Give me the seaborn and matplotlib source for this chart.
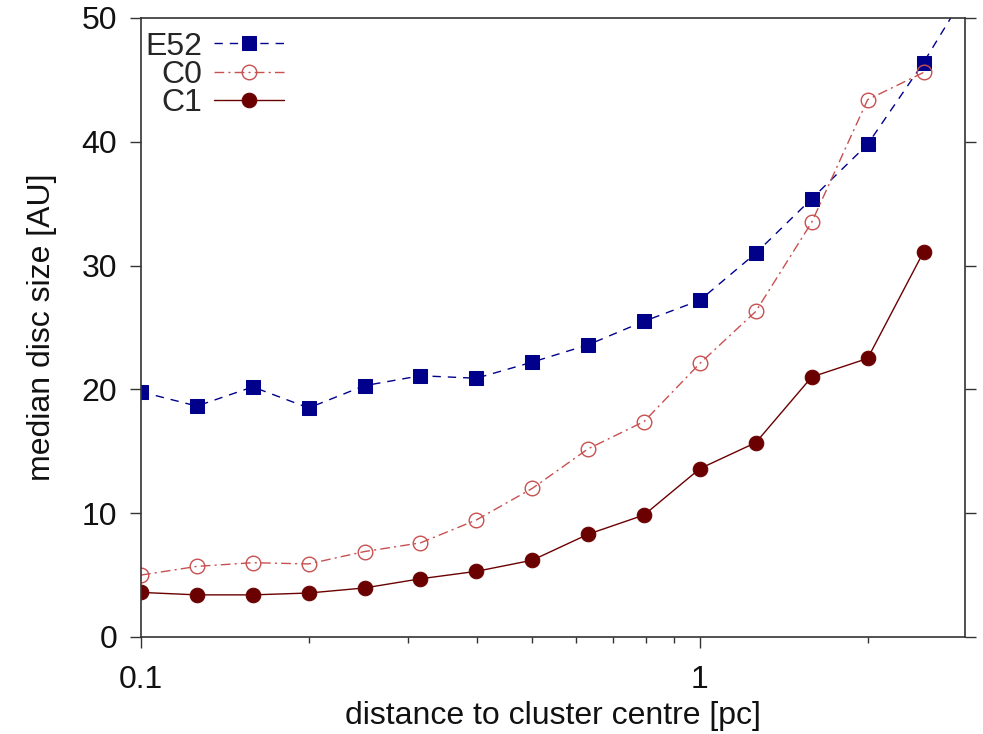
import numpy as np
import pandas as pd
import seaborn as sns
import matplotlib
matplotlib.use("Agg")
import matplotlib.pyplot as plt
from matplotlib.ticker import FixedLocator, NullFormatter

# distance to cluster centre [pc]
distance = [0.1, 0.1259, 0.1585, 0.1995, 0.2512, 0.3162, 0.3981, 0.5012,
            0.6310, 0.7943, 1.0, 1.2589, 1.5849, 1.9953, 2.5119]
distance_e52 = distance + [3.1623]

e52 = [19.8, 18.65, 20.2, 18.5, 20.3, 21.1, 20.9, 22.2, 23.6, 25.5, 27.2,
       31.0, 35.4, 39.8, 46.4, 53.8]
c0 = [5.0, 5.7, 6.0, 5.9, 6.9, 7.6, 9.45, 12.0, 15.2, 17.4, 22.1, 26.3,
      33.5, 43.4, 45.6]
c1 = [3.6, 3.4, 3.4, 3.55, 3.96, 4.7, 5.3, 6.2, 8.3, 9.85, 13.6, 15.7,
      21.0, 22.5, 31.1]

series_labels = ["E52", "C0", "C1"]
yticks = [0, 10, 20, 30, 40, 50]
xticks = [0.1, 1]
xticklabels = ["0.1", "1"]

FS = 23

sns.set_style("white")
plt.rcParams['font.family'] = ['Liberation Sans', 'DejaVu Sans']

fig = plt.figure(figsize=(9.83, 7.34), dpi=100)
ax = fig.add_axes([0.1434, 0.1322, 0.9817 - 0.1434, 0.9755 - 0.1322])

sns.lineplot(x=distance_e52, y=e52, ax=ax, color="#00008b", lw=1.0,
             marker="s", markersize=10, markeredgecolor="#00008b",
             label=series_labels[0], sort=False)
ax.lines[-1].set_dashes((6, 5))
sns.lineplot(x=distance, y=c0, ax=ax, color="#c85050", lw=1.0,
             marker="o", markersize=10.5, markerfacecolor="none",
             markeredgecolor="#c85050", markeredgewidth=1.0,
             label=series_labels[1], sort=False)
ax.lines[-1].set_dashes((7, 3, 1.5, 3))
sns.lineplot(x=distance, y=c1, ax=ax, color="#6b0000", lw=1.0,
             marker="o", markersize=10.5, markeredgecolor="#6b0000",
             label=series_labels[2], sort=False)

ax.set_xscale("log")
ax.set_xlim(0.1, 2.98)
ax.set_ylim(0, 50)
ax.xaxis.set_major_locator(FixedLocator(xticks))
ax.set_xticklabels(xticklabels)
minor = [0.2, 0.3, 0.4, 0.5, 0.6, 0.7, 0.8, 0.9, 2.0, 3.0]
ax.xaxis.set_minor_locator(FixedLocator(minor))
ax.xaxis.set_minor_formatter(NullFormatter())
ax.set_yticks(yticks)

for s in ax.spines.values():
    s.set_visible(True)
    s.set_color("#333333")
    s.set_linewidth(1.2)

ax.tick_params(axis="x", which="major", direction="out", length=8, width=1.0,
               bottom=True, top=False, labelsize=FS, colors="#333333", pad=12.5)
ax.tick_params(axis="x", which="minor", direction="out", length=4.3, width=1.0,
               bottom=True, top=False, colors="#333333")
ax.tick_params(axis="y", which="major", direction="out", length=8, width=1.0,
               left=True, right=True, labelsize=FS, colors="#333333", pad=9)
for lab in ax.get_xticklabels() + ax.get_yticklabels():
    lab.set_color("#111111")

ax.set_xlabel("distance to cluster centre [pc]", fontsize=FS, color="#111111", labelpad=4)
ax.set_ylabel("median disc size [AU]", fontsize=FS, color="#111111", labelpad=18)

leg = ax.legend(loc="upper left", frameon=False, markerfirst=False,
                fontsize=FS, handlelength=2.2, handletextpad=0.37,
                labelspacing=-0.05, borderpad=0.0, borderaxespad=0.0,
                bbox_to_anchor=(0.005, 0.978))

fig.savefig("out.png", dpi=100)
